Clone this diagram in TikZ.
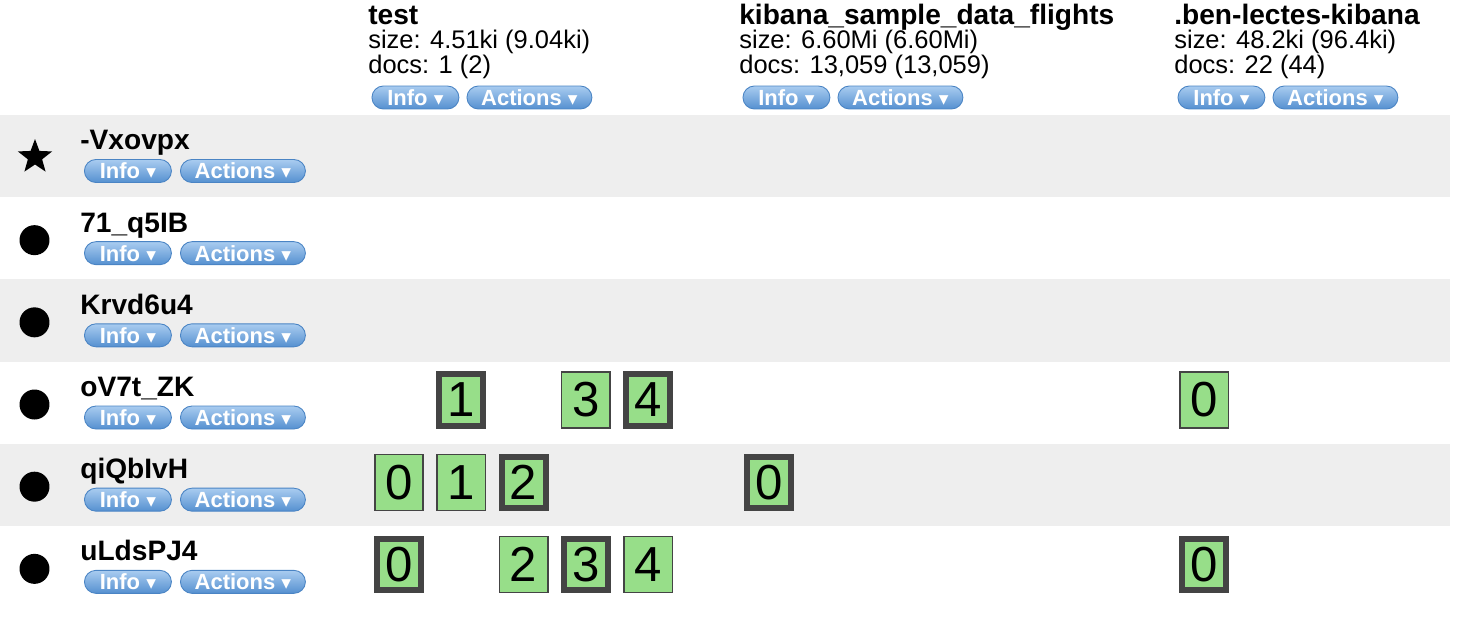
\documentclass[tikz,border=0pt]{standalone}
\usepackage{fontspec}
\setmainfont{Liberation Sans}
\newfontfamily\symfont{DejaVu Sans}
\usetikzlibrary{shapes.geometric}
\definecolor{rowgray}{HTML}{EEEEEE}
\definecolor{shardgreen}{HTML}{97DE89}
\definecolor{sharddark}{HTML}{444444}
\definecolor{btntop}{HTML}{A9CCF0}
\definecolor{btnbot}{HTML}{5590D0}
\definecolor{btnline}{HTML}{4A84C4}
\newcommand{\dropdn}{\hspace{0.28em}{\symfont\fontsize{11}{11}\selectfont ▾}}

\tikzset{
  btn/.style={draw=btnline, line width=0.5pt, rounded corners=0.23cm,
    top color=btntop, bottom color=btnbot, minimum height=0.46cm, inner sep=0pt,
    anchor=west, text=white, font=\bfseries\fontsize{12.5}{12.5}\selectfont},
  infobtn/.style={btn, minimum width=1.74cm},
  actbtn/.style={btn, minimum width=2.5cm},
  title/.style={anchor=base west, inner sep=0pt, font=\bfseries\fontsize{16}{19}\selectfont},
  stat/.style={anchor=base west, inner sep=0pt, font=\fontsize{14.5}{17}\selectfont},
  shard/.style={fill=shardgreen, draw=sharddark, inner sep=0pt,
    font=\fontsize{28}{28}\selectfont},
  pri/.style={shard, line width=0.12cm, minimum width=0.88cm, minimum height=1.04cm},
  rep/.style={shard, line width=0.03cm, minimum width=0.97cm, minimum height=1.13cm}
}

\begin{document}
\begin{tikzpicture}[x=0.02cm, y=-0.02cm]
    \useasboundingbox (0,0) rectangle (1478,642);

    % striped rows
    \foreach \i in {0,2,4}{\fill[rowgray] (0,{115+82.17*\i}) rectangle (1450,{115+82.17*(\i+1)});}

    % index headers
    \foreach \c/\x/\t/\sz/\dc in {test/368/{test}/{4.51ki (9.04ki)}/{1 (2)},
        kib/739/{kibana\_sample\_data\_flights}/{6.60Mi (6.60Mi)}/{13,059 (13,059)},
        ben/1174/{.ben-lectes-kibana}/{48.2ki (96.4ki)}/{22 (44)}}{
      \node[title] (h-\c) at (\x,25) {\t};
      \node[stat] (sz-\c) at (\x,48.5) {size: \sz};
      \node[stat] (dc-\c) at (\x,73.5) {docs: \dc};
      \node[infobtn] (hi-\c) at (\x+3.5,97.5) {Info\dropdn};
      \node[actbtn] (ha-\c) at (\x+98.5,97.5) {Actions\dropdn};
    }

    % cluster nodes
    \foreach \i/\n/\t in {0/vx/-Vxovpx, 1/q5/71\_q5IB, 2/kr/Krvd6u4,
        3/ov/oV7t\_ZK, 4/qi/qiQbIvH, 5/ul/uLdsPJ4}{
      \node[title] (\n) at (80,{115+82.17*\i+35}) {\t};
      \node[infobtn] (i-\n) at (84,{115+82.17*\i+56}) {Info\dropdn};
      \node[actbtn] (a-\n) at (180,{115+82.17*\i+56}) {Actions\dropdn};
      \ifnum\i=0
        \node[star, star points=5, star point ratio=2.4, fill=black, inner sep=0pt,
          minimum size=0.72cm] (m-\n) at (35,{115+82.17*\i+42}) {};
      \else
        \node[circle, fill=black, inner sep=0pt, minimum size=0.6cm] (m-\n) at (34.5,{115+82.17*\i+43}) {};
      \fi
    }

    % shards
    \foreach \y/\n/\x/\s/\p in {400/ov/399/1/pri, 400/ov/399/3/rep, 400/ov/399/4/pri, 400/ov/1204/0/rep,
        482.5/qi/399/0/rep, 482.5/qi/399/1/rep, 482.5/qi/399/2/pri, 482.5/qi/769/0/pri,
        564.5/ul/399/0/pri, 564.5/ul/399/2/rep, 564.5/ul/399/3/pri, 564.5/ul/399/4/rep, 564.5/ul/1204/0/pri}{
      \node[\p] (s-\n-\x-\s) at ({\x+62.25*\s},\y) {\s};
    }
\end{tikzpicture}
\end{document}
